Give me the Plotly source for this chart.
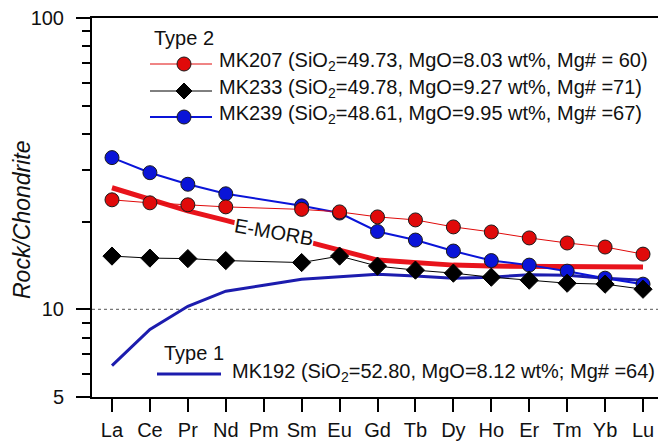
import plotly.graph_objects as go

elements = ["La", "Ce", "Pr", "Nd", "Pm", "Sm", "Eu", "Gd", "Tb", "Dy", "Ho", "Er", "Tm", "Yb", "Lu"]
x_idx = list(range(len(elements)))

mk207 = [23.76, 23.20, 22.84, 22.47, None, 22.03, 21.60, 20.76, 20.27, 19.18, 18.43, 17.58, 16.89, 16.36, 15.47]
mk233 = [15.23, 14.99, 14.93, 14.70, None, 14.47, 15.23, 14.07, 13.63, 13.31, 12.89, 12.59, 12.29, 12.20, 11.72]
mk239 = [33.17, 29.44, 26.87, 24.92, None, 22.66, 21.40, 18.50, 17.29, 15.85, 14.70, 14.18, 13.52, 12.79, 12.20]
emorb = [26.14, 23.95, 21.77, 20.19, 18.73, 17.29, 15.97, 14.76, 14.41, 14.18, 14.07, 14.07, 14.01, 13.96, 13.96]
mk192 = [6.41, 8.53, 10.24, 11.54, 12.10, 12.69, 12.94, 13.20, 13.00, 12.79, 12.89, 13.15, 13.10, 12.79, 12.59]

y_tickvals = [5, 10, 100]
y_minor = [6, 7, 8, 9, 20, 30, 40, 50, 60, 70, 80, 90]

legend_type2 = "Type 2"
legend_type1 = "Type 1"
label_207 = "MK207 (SiO<sub>2</sub>=49.73, MgO=8.03 wt%, Mg# = 60)"
label_233 = "MK233 (SiO<sub>2</sub>=49.78, MgO=9.27 wt%, Mg# =71)"
label_239 = "MK239 (SiO<sub>2</sub>=48.61, MgO=9.95 wt%, Mg# =67)"
label_192 = "MK192 (SiO<sub>2</sub>=52.80, MgO=8.12 wt%; Mg# =64)"

RED = "#e00a0a"
BLUE = "#0a14d8"
NAVY = "#1c1cae"
FONT = "Arial, Liberation Sans, sans-serif"

W, H = 658, 444
L, R, T, B = 92, 0, 18, 47
PW, PH = W - L - R, H - T - B


def px(xp):
    return (xp - L) / PW


def py(yp):
    return (H - B - yp) / PH


fig = go.Figure()
fig.add_trace(go.Scatter(x=x_idx, y=emorb, mode="lines", name="E-MORB",
                         line=dict(color="#e8141c", width=5), showlegend=False))
fig.add_trace(go.Scatter(x=x_idx, y=mk192, mode="lines", name="MK192",
                         line=dict(color=NAVY, width=3), showlegend=False))
fig.add_trace(go.Scatter(x=x_idx, y=mk239, mode="lines+markers", name="MK239", connectgaps=True,
                         line=dict(color=BLUE, width=2),
                         marker=dict(symbol="circle", size=14, color=BLUE, line=dict(color="#1a1a1a", width=1)),
                         showlegend=False))
fig.add_trace(go.Scatter(x=x_idx, y=mk233, mode="lines+markers", name="MK233", connectgaps=True,
                         line=dict(color="#000000", width=1),
                         marker=dict(symbol="diamond", size=14, color="#000000", line=dict(color="#000000", width=1)),
                         showlegend=False))
fig.add_trace(go.Scatter(x=x_idx, y=mk207, mode="lines+markers", name="MK207", connectgaps=True,
                         line=dict(color=RED, width=1),
                         marker=dict(symbol="circle", size=14, color=RED, line=dict(color="#1a1a1a", width=1)),
                         showlegend=False))

shapes = []
shapes.append(dict(type="line", xref="paper", x0=0, x1=1, yref="y", y0=10, y1=10,
                   line=dict(color="#555555", width=1, dash="dot"), layer="below"))

rows = [(64, RED, 1, "circle", RED), (91, "#000000", 1, "diamond", "#000000"), (117, BLUE, 2, "circle", BLUE)]
for yy, lc, lw, sym, fc in rows:
    shapes.append(dict(type="line", xref="paper", yref="paper", x0=px(150), x1=px(212),
                       y0=py(yy), y1=py(yy), line=dict(color=lc, width=lw)))
    if sym == "circle":
        shapes.append(dict(type="circle", xref="paper", yref="paper", xsizemode="pixel", ysizemode="pixel",
                           xanchor=px(184), yanchor=py(yy), x0=-7, x1=7, y0=-7, y1=7,
                           fillcolor=fc, line=dict(color="#1a1a1a", width=1)))
    else:
        shapes.append(dict(type="path", xref="paper", yref="paper", xsizemode="pixel", ysizemode="pixel",
                           xanchor=px(184), yanchor=py(yy), path="M0,-8 L8,0 L0,8 L-8,0 Z",
                           fillcolor=fc, line=dict(color=fc, width=1)))
shapes.append(dict(type="line", xref="paper", yref="paper", x0=px(157), x1=px(221),
                   y0=py(374), y1=py(374), line=dict(color=NAVY, width=3)))

annotations = [
    dict(text=legend_type2, x=px(152), y=py(38), xanchor="left", yanchor="middle"),
    dict(text=label_207, x=px(217), y=py(62), xanchor="left", yanchor="middle"),
    dict(text=label_233, x=px(217), y=py(89), xanchor="left", yanchor="middle"),
    dict(text=label_239, x=px(217), y=py(115), xanchor="left", yanchor="middle"),
    dict(text=legend_type1, x=px(162), y=py(353), xanchor="left", yanchor="middle"),
    dict(text=label_192, x=px(230), y=py(372), xanchor="left", yanchor="middle"),
]
for a in annotations:
    a.update(xref="paper", yref="paper", showarrow=False, font=dict(family=FONT, size=20, color="#111111"))

annotations.append(dict(text="E-MORB", x=px(274), y=py(232), xref="paper", yref="paper", showarrow=False,
                        xanchor="center", yanchor="middle",
                        textangle=10, bgcolor="white", borderpad=0,
                        font=dict(family=FONT, size=20, color="#111111")))
annotations.append(dict(text="<i>Rock/Chondrite</i>", x=px(22), y=py(220), xref="paper", yref="paper",
                        showarrow=False, textangle=-90, xanchor="center", yanchor="middle",
                        font=dict(family=FONT, size=23, color="#111111")))

fig.update_layout(
    width=W, height=H,
    margin=dict(l=L, r=R, t=T, b=B, autoexpand=False),
    plot_bgcolor="white", paper_bgcolor="white",
    shapes=shapes, annotations=annotations,
    showlegend=False,
    font=dict(family=FONT, size=20, color="#111111"),
)
fig.update_xaxes(
    range=[-0.527, 14.395], tickmode="array", tickvals=x_idx, ticktext=elements,
    ticks="outside", ticklen=13, tickwidth=2, tickcolor="black",
    showline=True, linecolor="black", linewidth=2, mirror=True,
    showgrid=False, zeroline=False, ticklabelstandoff=1,
    tickfont=dict(family=FONT, size=20, color="#111111"),
)
fig.update_yaxes(
    type="log", range=[0.69897, 2.0], tickmode="array", tickvals=y_tickvals,
    ticktext=[str(v) for v in y_tickvals],
    ticks="outside", ticklen=14, tickwidth=2, tickcolor="black",
    minor=dict(tickmode="array", tickvals=y_minor, ticks="outside", ticklen=8, tickwidth=2,
               tickcolor="black", showgrid=False),
    showline=True, linecolor="black", linewidth=2, mirror=False,
    showgrid=False, zeroline=False, ticklabelstandoff=8,
    tickfont=dict(family=FONT, size=20, color="#111111"),
)

fig.write_html("out.html", config={"displayModeBar": False},
               post_script="document.body.style.margin='0';document.body.style.overflow='hidden';")
